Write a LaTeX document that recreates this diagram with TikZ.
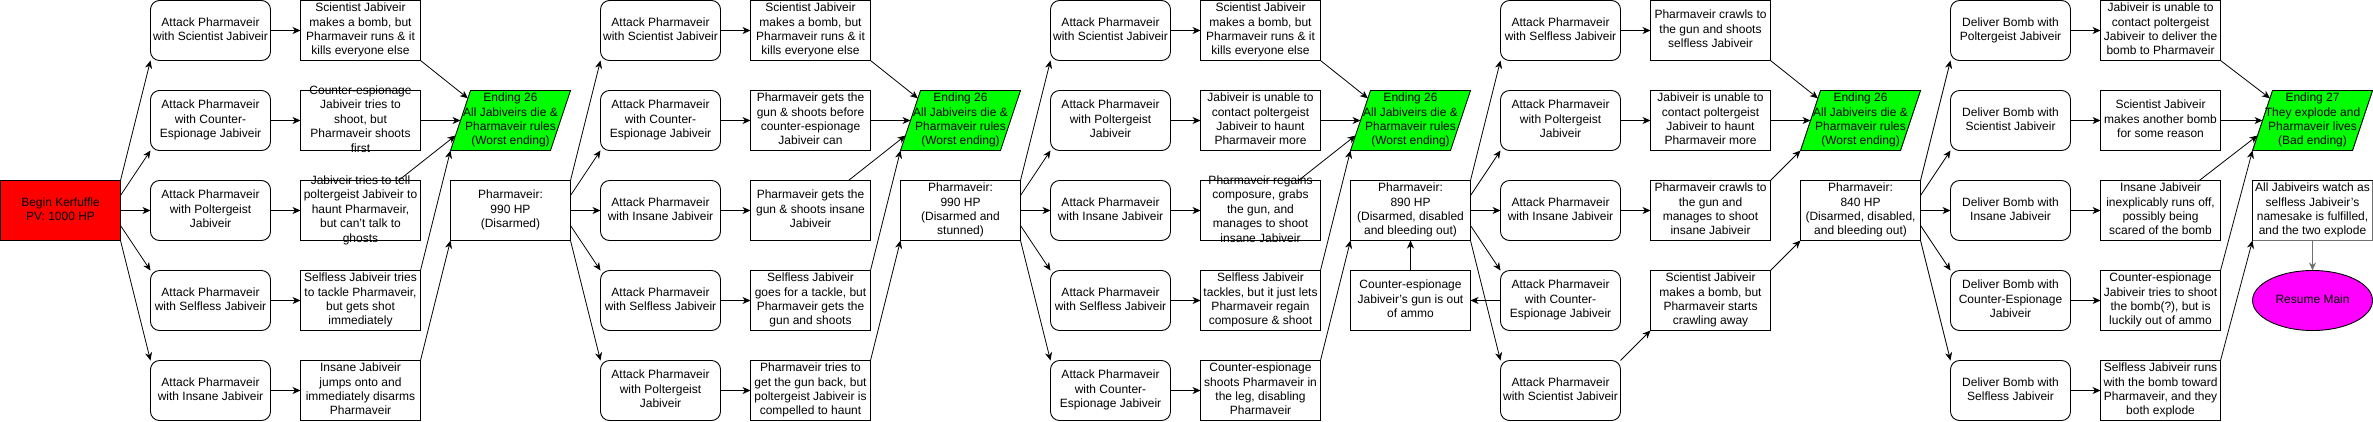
\documentclass[tikz,border=0pt]{standalone}
\usepackage{fontspec}
\setmainfont{Liberation Sans}
\usetikzlibrary{shapes.geometric,arrows.meta,calc,backgrounds}
\definecolor{kred}{HTML}{FF0000}
\definecolor{kgreen}{HTML}{00FF00}
\definecolor{kmag}{HTML}{FF00FF}
\definecolor{kgray}{HTML}{707070}
\newcommand\boxtext[1]{\hbox to 0pt{\hss\vbox to 0pt{\vss\hbox{\begin{tabular}{@{}c@{}}#1\end{tabular}}\vss}\hss}}
\tikzset{
  base/.style={minimum width=120pt, minimum height=60pt, inner sep=0pt, outer sep=0pt,
    font=\fontsize{12}{14.4}\selectfont, line width=0.9pt},
  rbox/.style={base, draw, rounded corners=9pt},
  sbox/.style={base, draw},
  ending/.style={base},
  parallel/.style={line width=0.9pt, draw, fill=kgreen},
  resume/.style={base, draw, fill=kmag, ellipse},
  arr/.style={-{Stealth[length=8pt,width=7pt,inset=2.5pt]}, line width=0.8pt},
}
\begin{document}
\begin{tikzpicture}[x=1pt, y=-1pt]
\useasboundingbox (-0.5,-0.5) rectangle (2372.5,420.5);
% ---------- section 1
\node[sbox, fill=kred] (start) at (60,210) {\boxtext{Begin Kerfuffle\\PV: 1000 HP}};
\node[rbox] (a1) at (210,30)  {\boxtext{Attack Pharmaveir\\with Scientist Jabiveir}};
\node[rbox] (a2) at (210,120) {\boxtext{Attack Pharmaveir\\with Counter-\\Espionage Jabiveir}};
\node[rbox] (a3) at (210,210) {\boxtext{Attack Pharmaveir\\with Poltergeist\\Jabiveir}};
\node[rbox] (a4) at (210,300) {\boxtext{Attack Pharmaveir\\with Selfless Jabiveir}};
\node[rbox] (a5) at (210,390) {\boxtext{Attack Pharmaveir\\with Insane Jabiveir}};
\node[sbox] (o1) at (360,30)  {\boxtext{Scientist Jabiveir\\makes a bomb, but\\Pharmaveir runs \& it\\kills everyone else}};
\node[sbox] (o2) at (360,120) {\boxtext{Counter-espionage\\Jabiveir tries to\\shoot, but\\Pharmaveir shoots\\first}};
\node[sbox] (o3) at (360,210) {\boxtext{Jabiveir tries to tell\\poltergeist Jabiveir to\\haunt Pharmaveir,\\but can't talk to\\ghosts}};
\node[sbox] (o4) at (360,300) {\boxtext{Selfless Jabiveir tries\\to tackle Pharmaveir,\\but gets shot\\immediately}};
\node[sbox] (o5) at (360,390) {\boxtext{Insane Jabiveir\\jumps onto and\\immediately disarms\\Pharmaveir}};
\node[ending] (e1) at (510,120) {\boxtext{Ending 26\\All Jabiveirs die \&\\Pharmaveir rules\\(Worst ending)}};
\node[sbox] (p1) at (510,210) {\boxtext{Pharmaveir:\\990 HP\\(Disarmed)}};
% ---------- section 2
\node[rbox] (b1) at (660,30)  {\boxtext{Attack Pharmaveir\\with Scientist Jabiveir}};
\node[rbox] (b2) at (660,120) {\boxtext{Attack Pharmaveir\\with Counter-\\Espionage Jabiveir}};
\node[rbox] (b3) at (660,210) {\boxtext{Attack Pharmaveir\\with Insane Jabiveir}};
\node[rbox] (b4) at (660,300) {\boxtext{Attack Pharmaveir\\with Selfless Jabiveir}};
\node[rbox] (b5) at (660,390) {\boxtext{Attack Pharmaveir\\with Poltergeist\\Jabiveir}};
\node[sbox] (q1) at (810,30)  {\boxtext{Scientist Jabiveir\\makes a bomb, but\\Pharmaveir runs \& it\\kills everyone else}};
\node[sbox] (q2) at (810,120) {\boxtext{Pharmaveir gets the\\gun \& shoots before\\counter-espionage\\Jabiveir can}};
\node[sbox] (q3) at (810,210) {\boxtext{Pharmaveir gets the\\gun \& shoots insane\\Jabiveir}};
\node[sbox] (q4) at (810,300) {\boxtext{Selfless Jabiveir\\goes for a tackle, but\\Pharmaveir gets the\\gun and shoots}};
\node[sbox] (q5) at (810,390) {\boxtext{Pharmaveir tries to\\get the gun back, but\\poltergeist Jabiveir is\\compelled to haunt}};
\node[ending] (e2) at (960,120) {\boxtext{Ending 26\\All Jabiveirs die \&\\Pharmaveir rules\\(Worst ending)}};
\node[sbox] (p2) at (960,210) {\boxtext{Pharmaveir:\\990 HP\\(Disarmed and\\stunned)}};
% ---------- section 3
\node[rbox] (c1) at (1110,30)  {\boxtext{Attack Pharmaveir\\with Scientist Jabiveir}};
\node[rbox] (c2) at (1110,120) {\boxtext{Attack Pharmaveir\\with Poltergeist\\Jabiveir}};
\node[rbox] (c3) at (1110,210) {\boxtext{Attack Pharmaveir\\with Insane Jabiveir}};
\node[rbox] (c4) at (1110,300) {\boxtext{Attack Pharmaveir\\with Selfless Jabiveir}};
\node[rbox] (c5) at (1110,390) {\boxtext{Attack Pharmaveir\\with Counter-\\Espionage Jabiveir}};
\node[sbox] (r1) at (1260,30)  {\boxtext{Scientist Jabiveir\\makes a bomb, but\\Pharmaveir runs \& it\\kills everyone else}};
\node[sbox] (r2) at (1260,120) {\boxtext{Jabiveir is unable to\\contact poltergeist\\Jabiveir to haunt\\Pharmaveir more}};
\node[sbox] (r3) at (1260,210) {\boxtext{Pharmaveir regains\\composure, grabs\\the gun, and\\manages to shoot\\insane Jabiveir}};
\node[sbox] (r4) at (1260,300) {\boxtext{Selfless Jabiveir\\tackles, but it just lets\\Pharmaveir regain\\composure \& shoot}};
\node[sbox] (r5) at (1260,390) {\boxtext{Counter-espionage\\shoots Pharmaveir in\\the leg, disabling\\Pharmaveir}};
\node[ending] (e3) at (1410,120) {\boxtext{Ending 26\\All Jabiveirs die \&\\Pharmaveir rules\\(Worst ending)}};
\node[sbox] (p3) at (1410,210) {\boxtext{Pharmaveir:\\890 HP\\(Disarmed, disabled\\and bleeding out)}};
\node[sbox] (g3) at (1410,300) {\boxtext{Counter-espionage\\Jabiveir's gun is out\\of ammo}};
% ---------- section 4
\node[rbox] (d1) at (1560,30)  {\boxtext{Attack Pharmaveir\\with Selfless Jabiveir}};
\node[rbox] (d2) at (1560,120) {\boxtext{Attack Pharmaveir\\with Poltergeist\\Jabiveir}};
\node[rbox] (d3) at (1560,210) {\boxtext{Attack Pharmaveir\\with Insane Jabiveir}};
\node[rbox] (d4) at (1560,300) {\boxtext{Attack Pharmaveir\\with Counter-\\Espionage Jabiveir}};
\node[rbox] (d5) at (1560,390) {\boxtext{Attack Pharmaveir\\with Scientist Jabiveir}};
\node[sbox] (s1) at (1710,30)  {\boxtext{Pharmaveir crawls to\\the gun and shoots\\selfless Jabiveir}};
\node[sbox] (s2) at (1710,120) {\boxtext{Jabiveir is unable to\\contact poltergeist\\Jabiveir to haunt\\Pharmaveir more}};
\node[sbox] (s3) at (1710,210) {\boxtext{Pharmaveir crawls to\\the gun and\\manages to shoot\\insane Jabiveir}};
\node[sbox] (s4) at (1710,300) {\boxtext{Scientist Jabiveir\\makes a bomb, but\\Pharmaveir starts\\crawling away}};
\node[ending] (e4) at (1860,120) {\boxtext{Ending 26\\All Jabiveirs die \&\\Pharmaveir rules\\(Worst ending)}};
\node[sbox] (p4) at (1860,210) {\boxtext{Pharmaveir:\\840 HP\\(Disarmed, disabled,\\and bleeding out)}};
% ---------- section 5
\node[rbox] (f1) at (2010,30)  {\boxtext{Deliver Bomb with\\Poltergeist Jabiveir}};
\node[rbox] (f2) at (2010,120) {\boxtext{Deliver Bomb with\\Scientist Jabiveir}};
\node[rbox] (f3) at (2010,210) {\boxtext{Deliver Bomb with\\Insane Jabiveir}};
\node[rbox] (f4) at (2010,300) {\boxtext{Deliver Bomb with\\Counter-Espionage\\Jabiveir}};
\node[rbox] (f5) at (2010,390) {\boxtext{Deliver Bomb with\\Selfless Jabiveir}};
\node[sbox] (t1) at (2160,30)  {\boxtext{Jabiveir is unable to\\contact poltergeist\\Jabiveir to deliver the\\bomb to Pharmaveir}};
\node[sbox] (t2) at (2160,120) {\boxtext{Scientist Jabiveir\\makes another bomb\\for some reason}};
\node[sbox] (t3) at (2160,210) {\boxtext{Insane Jabiveir\\inexplicably runs off,\\possibly being\\scared of the bomb}};
\node[sbox] (t4) at (2160,300) {\boxtext{Counter-espionage\\Jabiveir tries to shoot\\the bomb(?), but is\\luckily out of ammo}};
\node[sbox] (t5) at (2160,390) {\boxtext{Selfless Jabiveir runs\\with the bomb toward\\Pharmaveir, and they\\both explode}};
\node[ending] (e5) at (2312,120) {\boxtext{Ending 27\\They explode and\\Pharmaveir lives\\(Bad ending)}};
\node[sbox] (w) at (2312,210) {\boxtext{All Jabiveirs watch as\\selfless Jabiveir's\\namesake is fulfilled,\\and the two explode}};
\draw[kgray, line width=0.9pt] (w.north east) -- (w.south east) -- (w.south west);
\node[resume] (rm) at (2312,300) {\boxtext{Resume Main}};
% ---------- parallelogram outlines of the endings
\begin{pgfonlayer}{background}
\foreach \ee in {e1,e2,e3,e4,e5} {
  \draw[parallel] (\ee.south west) -- ([xshift=20pt]\ee.north west) -- (\ee.north east)
    -- ([xshift=-20pt]\ee.south east) -- cycle;
}
\end{pgfonlayer}
% ---------- connectors
\foreach \hub/\tg in {start/a, p1/b, p2/c, p3/d, p4/f} {
  \draw[arr] (\hub.north east) -- (\tg1.south west);
  \draw[arr] ($(\hub.north east)!0.25!(\hub.south east)$) -- (\tg2.south west);
  \draw[arr] (\hub.east) -- (\tg3.west);
  \draw[arr] ($(\hub.north east)!0.75!(\hub.south east)$) -- (\tg4.north west);
  \draw[arr] (\hub.south east) -- (\tg5.north west);
}
\foreach \src/\dst in {a/o, b/q, c/r, f/t} {
  \foreach \i in {1,...,5} { \draw[arr] (\src\i.east) -- (\dst\i.west); }
}
\foreach \i in {1,2,3} { \draw[arr] (d\i.east) -- (s\i.west); }
\foreach \oo/\ee/\pp in {o/e1/p1, q/e2/p2, r/e3/p3, t/e5/w} {
  \draw[arr] (\oo1.south east) -- ($(\ee.south west)!0.87!(\ee.north west)+(17.4,0)$);
  \draw[arr] (\oo2.east) -- ($(\ee.west)+(10,0)$);
  \draw[arr] (\oo3) -- ($(\ee.south west)!0.25!(\ee.north west)+(5,0)$);
  \draw[arr] (\oo4.north east) -- (\ee.south west);
  \draw[arr] (\oo5.north east) -- (\pp.south west);
}
\draw[arr] (d5.north east) -- (s4.south west);
\draw[arr] (d4.west) -- (g3.east);
\draw[arr] (g3.north) -- (p3.south);
\draw[arr] (s1.south east) -- ($(e4.south west)!0.87!(e4.north west)+(17.4,0)$);
\draw[arr] (s2.east) -- ($(e4.west)+(10,0)$);
\draw[arr] (s3.north east) -- (e4.south west);
\draw[arr] (s4.north east) -- (p4.south west);
\draw[arr, kgray, line width=1.2pt] (w.south) -- (rm.north);
\end{tikzpicture}
\end{document}
